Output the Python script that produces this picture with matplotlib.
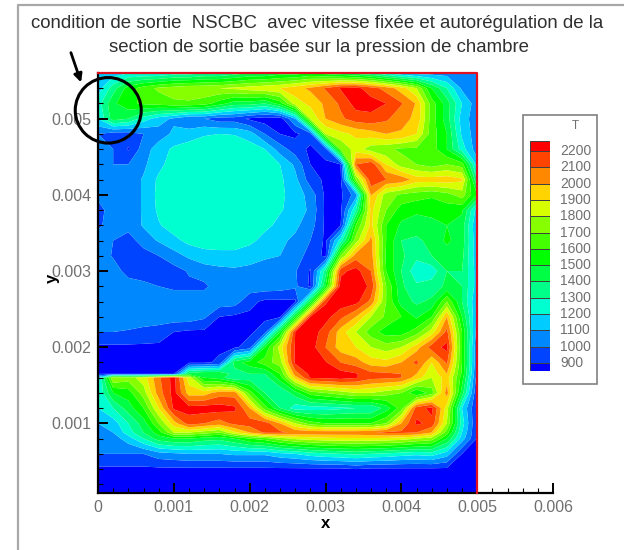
import numpy as np
import matplotlib
matplotlib.use('Agg')
import matplotlib.pyplot as plt
from matplotlib.colors import ListedColormap, BoundaryNorm
from matplotlib.lines import Line2D
from matplotlib.patches import Ellipse, Rectangle

plt.rcParams['font.family'] = ['Liberation Sans', 'DejaVu Sans']

# grid of the temperature field
x_mm = [0.0, 0.2, 0.4, 0.6, 0.8, 1.0, 1.2, 1.4, 1.6, 1.8, 2.0, 2.2, 2.4, 2.6, 2.8, 3.0, 3.2, 3.4, 3.6, 3.8,
        4.0, 4.2, 4.4, 4.6, 4.8, 5.0]
y_mm = [5.6, 5.4, 5.2, 5.0, 4.8, 4.6, 4.4, 4.2, 4.0, 3.8, 3.6, 3.4, 3.2, 3.0, 2.8, 2.6, 2.4, 2.2, 2.0, 1.8,
        1.65, 1.6, 1.4, 1.2, 1.0, 0.88, 0.8, 0.6, 0.4, 0.2, 0.09]

T_rows = [
    [1100, 1150, 1200, 1200, 1200, 1250, 1250, 1300, 1300, 1350, 1400, 1400, 1450, 1450, 1500, 1450, 1400, 1350, 1300, 1200, 1100, 1050, 1050, 1050, 1050, 1050],
    [1150, 1350, 1550, 1650, 1720, 1750, 1780, 1780, 1800, 1820, 1850, 1880, 1900, 1960, 2020, 2110, 2210, 2230, 2150, 2060, 1950, 1800, 1500, 1300, 1080, 1040],
    [1250, 1480, 1570, 1620, 1640, 1680, 1680, 1650, 1550, 1450, 1450, 1400, 1550, 1850, 1930, 2020, 2120, 2240, 2240, 2200, 2110, 1990, 1650, 1450, 1200, 1040],
    [1200, 1450, 1400, 1250, 1150, 1080, 1000, 1000, 950, 950, 880, 850, 850, 1100, 1800, 2000, 2080, 2150, 2170, 2120, 2030, 1980, 1650, 1450, 1150, 1040],
    [1000, 950, 950, 1000, 1050, 1120, 1150, 1190, 1200, 1195, 1150, 1000, 900, 880, 950, 1800, 1870, 1920, 1950, 2000, 1990, 1900, 1650, 1500, 1180, 1040],
    [1050, 1000, 890, 1050, 1150, 1220, 1250, 1260, 1260, 1260, 1250, 1200, 1050, 950, 880, 950, 1700, 1850, 1750, 1720, 1680, 1680, 1650, 1500, 1250, 1040],
    [1050, 1000, 1000, 1080, 1170, 1250, 1260, 1260, 1260, 1260, 1260, 1260, 1200, 1080, 900, 880, 900, 2100, 2170, 1900, 1750, 1700, 1650, 1700, 1650, 1150],
    [1050, 1050, 1050, 1110, 1220, 1260, 1260, 1260, 1260, 1260, 1260, 1260, 1220, 1130, 950, 880, 880, 1700, 2170, 2100, 2070, 1950, 1950, 1960, 1920, 1300],
    [1020, 1050, 1050, 1110, 1230, 1260, 1260, 1260, 1260, 1260, 1260, 1260, 1220, 1160, 1060, 880, 880, 1050, 2010, 1750, 1680, 1650, 1620, 1660, 1750, 1500],
    [970, 1040, 1050, 1110, 1220, 1260, 1260, 1260, 1260, 1260, 1260, 1260, 1210, 1160, 1080, 880, 880, 1300, 1930, 1700, 1550, 1520, 1520, 1550, 1520, 1150],
    [980, 1050, 1040, 1110, 1190, 1250, 1260, 1260, 1260, 1260, 1260, 1230, 1170, 1120, 1050, 880, 900, 1600, 1930, 1600, 1480, 1450, 1480, 1500, 1450, 1100],
    [1050, 1000, 950, 1050, 1110, 1170, 1230, 1250, 1250, 1250, 1230, 1160, 1120, 1080, 1000, 880, 1250, 1750, 2030, 1600, 1400, 1380, 1430, 1520, 1450, 1120],
    [1060, 990, 900, 950, 1000, 1060, 1120, 1160, 1170, 1170, 1130, 1110, 1100, 1060, 950, 880, 1700, 2050, 2050, 1580, 1420, 1330, 1400, 1450, 1430, 1120],
    [1050, 1050, 960, 900, 950, 960, 1010, 1050, 1070, 1080, 1080, 1070, 1060, 1010, 890, 1350, 2170, 2240, 2100, 1600, 1400, 1230, 1240, 1400, 1400, 1150],
    [1050, 1050, 1050, 1050, 1000, 980, 980, 980, 1050, 1060, 1060, 1060, 1050, 1020, 880, 1500, 2250, 2260, 2180, 1700, 1420, 1320, 1350, 1420, 1400, 1150],
    [1060, 1060, 1060, 1060, 1060, 1060, 1060, 1060, 1060, 1050, 930, 880, 880, 880, 1450, 2190, 2260, 2240, 2070, 1700, 1450, 1380, 1420, 1700, 1400, 1100],
    [1060, 1060, 1060, 1060, 1060, 1060, 1060, 1020, 900, 880, 880, 880, 880, 1500, 2200, 2240, 2130, 2000, 1800, 1680, 1600, 1480, 1600, 2000, 1500, 1080],
    [1000, 1000, 990, 970, 950, 900, 880, 880, 880, 880, 880, 950, 1500, 2200, 2260, 2150, 1950, 1800, 1650, 1550, 1550, 1650, 1850, 2130, 1600, 1050],
    [880, 880, 880, 880, 880, 880, 880, 880, 880, 880, 950, 1500, 1850, 2210, 2250, 2100, 1950, 1900, 1800, 1750, 1800, 1950, 2150, 2230, 1600, 1000],
    [880, 880, 880, 880, 880, 880, 880, 880, 920, 1450, 1550, 1650, 1750, 2220, 2250, 2210, 2100, 2050, 1950, 1930, 2000, 2130, 1900, 2120, 1600, 1000],
    [900, 900, 900, 900, 900, 900, 1450, 1500, 1500, 1350, 1400, 1400, 1600, 2050, 2230, 2240, 2240, 2210, 2130, 2120, 2100, 2000, 1830, 2000, 1580, 970],
    [1150, 1800, 1750, 1850, 2080, 2240, 1850, 1500, 1450, 1300, 1350, 1350, 1550, 1950, 2210, 2220, 2240, 2210, 2130, 2120, 2100, 1950, 1800, 1950, 1550, 950],
    [1200, 1500, 1550, 1750, 2050, 2240, 1950, 1950, 2050, 2050, 1650, 1400, 1300, 1450, 1650, 1700, 1750, 1800, 1800, 1750, 1700, 1500, 1650, 2050, 1450, 900],
    [1200, 1300, 1450, 1600, 1900, 2220, 2240, 2250, 2250, 2220, 2000, 1650, 1400, 1250, 1250, 1260, 1280, 1300, 1300, 1450, 1650, 2150, 2230, 1850, 1200, 890],
    [1100, 1150, 1300, 1450, 1700, 1950, 2150, 2100, 2050, 2130, 2150, 2150, 2000, 1800, 1650, 1600, 1600, 1600, 1600, 1700, 2000, 2220, 2170, 1800, 1250, 890],
    [1060, 1100, 1250, 1400, 1550, 1800, 1800, 1750, 1700, 1880, 2000, 2120, 2120, 2080, 2070, 2070, 2070, 2070, 2090, 2120, 2120, 2100, 2000, 1650, 1200, 890],
    [1030, 1050, 1150, 1300, 1450, 1500, 1500, 1450, 1430, 1500, 1600, 1650, 1750, 1820, 1850, 1870, 1880, 1880, 1880, 1870, 1850, 1800, 1750, 1500, 1150, 890],
    [1000, 1000, 1000, 1000, 1060, 1080, 1100, 1100, 1100, 1120, 1120, 1120, 1170, 1200, 1250, 1280, 1300, 1320, 1300, 1280, 1250, 1230, 1250, 1150, 900, 880],
    [880, 880, 880, 880, 880, 880, 880, 880, 880, 880, 880, 880, 880, 880, 880, 880, 880, 900, 880, 880, 880, 880, 880, 880, 880, 880],
    [870, 870, 870, 870, 870, 870, 870, 870, 870, 870, 870, 870, 870, 870, 870, 870, 870, 870, 870, 870, 870, 870, 870, 870, 870, 870],
    [870, 870, 870, 870, 870, 870, 870, 870, 870, 870, 870, 870, 870, 870, 870, 870, 870, 870, 870, 870, 870, 870, 870, 870, 870, 870],
]

levels = [900, 1000, 1100, 1200, 1300, 1400, 1500, 1600, 1700, 1800, 1900, 2000, 2100, 2200]
legend_labels = ['900', '1000', '1100', '1200', '1300', '1400', '1500', '1600', '1700', '1800', '1900', '2000',
                 '2100', '2200']
band_colors = ['#0000ff', '#0044ff', '#0088ff', '#00ccff', '#00ffd0', '#00ff88', '#00ff44', '#00ff00', '#44ff00',
               '#88ff00', '#d8ff00', '#ffd400', '#ff8800', '#ff4400', '#ff0000']

x_ticks = [0, 0.001, 0.002, 0.003, 0.004, 0.005, 0.006]
x_tick_labels = ['0', '0.001', '0.002', '0.003', '0.004', '0.005', '0.006']
y_ticks = [0.001, 0.002, 0.003, 0.004, 0.005]
y_tick_labels = ['0.001', '0.002', '0.003', '0.004', '0.005']

W, H = 624, 550
GRAY = '#707070'


def fx(px):
    return px / W


def fy(py):
    return 1 - py / H


fig = plt.figure(figsize=(W / 100, H / 100), dpi=100)

# outer frame of the slide, only top and left are visible
fig.add_artist(Line2D([fx(18), fx(18), 1], [0, fy(5), fy(5)], color='#a8a8a8', lw=1.6))

ax = fig.add_axes([fx(98), fy(492.7), fx(553 - 98), (492.7 - 73) / H])
x = np.array(x_mm) / 1000
y = np.array(y_mm) / 1000
T = np.array(T_rows, dtype=float)
cmap = ListedColormap(band_colors[1:-1])
cmap.set_under(band_colors[0])
cmap.set_over(band_colors[-1])
norm = BoundaryNorm(levels, cmap.N)
ax.contourf(x, y[::-1], T[::-1], levels=levels, cmap=cmap, norm=norm, extend='both', antialiased=True)

# red boundary of the domain
ax.plot([0, 0.005, 0.005], [0.0056, 0.0056, 0.00009], color='#e01020', lw=1.6, clip_on=False, zorder=5)

ax.set_xlim(0, 0.006)
ax.set_ylim(0.00009, 0.0056)
for side in ['top', 'right']:
    ax.spines[side].set_visible(False)
for side in ['left', 'bottom']:
    ax.spines[side].set_linewidth(1.6)
ax.set_xticks(x_ticks)
ax.set_xticklabels(x_tick_labels)
ax.set_yticks(y_ticks)
ax.set_yticklabels(y_tick_labels)
ax.set_xticks(np.arange(0, 0.00601, 0.0002), minor=True)
ax.set_yticks(np.arange(0.0002, 0.00561, 0.0002), minor=True)
ax.tick_params(which='major', direction='in', length=7, width=1.4, labelsize=11.5, labelcolor=GRAY, pad=5)
ax.tick_params(which='minor', direction='in', length=3.6, width=0.8)
ax.set_xlabel('x', fontsize=12, fontweight='bold')
ax.set_ylabel('y', fontsize=12, fontweight='bold')
ax.xaxis.set_label_coords((326 - 98) / (553 - 98), -(523 - 492.7) / (492.7 - 73), transform=ax.transAxes)
ax.xaxis.label.set_va('center')
ax.yaxis.set_label_coords(-(98 - 52) / (553 - 98), (492.7 - 278) / (492.7 - 73), transform=ax.transAxes)
ax.yaxis.label.set_va('center')

# circle and arrow on the outlet
outlet_circle = Ellipse((0.000135, 0.00511), 0.00087, 0.00086, fill=False, ec='black', lw=2.2, clip_on=False, zorder=6)
ax.add_patch(outlet_circle)
ax.annotate('', xy=(fx(82), fy(85)), xytext=(fx(70), fy(50)), xycoords='figure fraction',
            textcoords='figure fraction', arrowprops=dict(arrowstyle='-|>', color='black', lw=2, mutation_scale=12))

# title text
fig.text(fx(317.5), fy(24), 'condition de sortie  NSCBC  avec vitesse fixée et autorégulation de la', ha='center',
         va='center', fontsize=13.4, color='#303030')
fig.text(fx(319), fy(47), 'section de sortie basée sur la pression de chambre', ha='center', va='center',
         fontsize=13.4, color='#303030')

# legend box
fig.add_artist(Rectangle((fx(523), fy(384)), fx(597 - 523), (384 - 115) / H, fill=False, ec='#808080', lw=1.2,
                         transform=fig.transFigure))
fig.text(fx(575), fy(126), 'T', ha='center', va='center', fontsize=8.5, color=GRAY)
cax = fig.add_axes([fx(530), fy(371), fx(20), (371 - 141) / H])
edges = [851] + levels + [2261]
cax.bar([0] * len(band_colors), np.diff(edges), bottom=edges[:-1], width=1, color=band_colors, edgecolor='#404040',
        linewidth=0.7)
cax.set_xlim(-0.5, 0.5)
cax.set_ylim(851, 2261)
cax.axis('off')
for lev, lab in zip(levels, legend_labels):
    cax.text(1.0, lev, lab, ha='left', va='center', fontsize=10, color=GRAY, clip_on=False)

fig.savefig('out.png', dpi=100)
